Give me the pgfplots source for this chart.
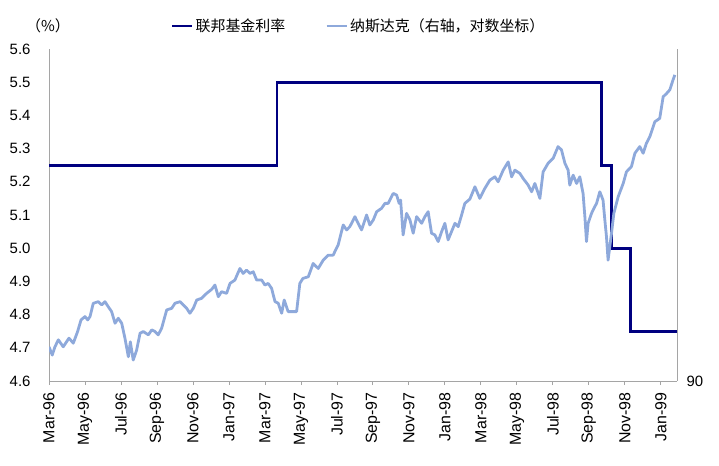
\documentclass[border=0pt]{standalone}
\usepackage{fontspec}
\setmainfont{Liberation Sans}
\newfontfamily\cjk{Noto Sans CJK SC}
\usepackage{pgfplots}
\pgfplotsset{compat=1.18}
\definecolor{fed}{RGB}{0,0,128}
\definecolor{nas}{RGB}{142,169,219}
\definecolor{axgray}{RGB}{165,165,165}

\begin{document}
\begin{tikzpicture}
\begin{axis}[
  at={(0,0)}, anchor=south west,
  scale only axis, width=628bp, height=332bp,
  xmin=0, xmax=34.9, ymin=4.6, ymax=5.6,
  axis x line*=bottom, axis y line*=left,
  axis line style={axgray, line width=0.8bp, -},
  xtick={0,2,4,6,8,10,12,14,16,18,20,22,24,26,28,30,32,34},
  xticklabels={Mar-96,May-96,Jul-96,Sep-96,Nov-96,Jan-97,Mar-97,May-97,Jul-97,Sep-97,Nov-97,Jan-98,Mar-98,May-98,Jul-98,Sep-98,Nov-98,Jan-99},
  xticklabel style={rotate=90, anchor=east, font=\fontsize{16}{16}\selectfont},
  xticklabel shift=4bp,
  x tick style={axgray, line width=0.8bp},
  tick align=outside, major tick length=4bp,
  ytick={4.6,4.7,4.8,4.9,5.0,5.1,5.2,5.3,5.4,5.5,5.6},
  y tick style={draw=none},
  yticklabel style={font=\fontsize{15}{15}\selectfont, xshift=-11bp},
  /pgf/number format/.cd, fixed, fixed zerofill, precision=1, assume math mode=true,
  /pgfplots/.cd,
  clip=false,
  legend style={at={(0.493,1.069)}, anchor=center, draw=none, fill=none,
    font=\cjk\fontsize{15}{15}\selectfont, legend columns=2,
    /tikz/every even column/.append style={column sep=38bp}},
  legend image code/.code={\draw[#1] (0bp,0bp) -- (20bp,0bp);},
]
\addplot[fed, line width=2.8bp] coordinates {
(0,5.25) (12.67,5.25) (12.67,5.5) (30.72,5.5) (30.72,5.25) (31.28,5.25)
(31.28,5.0) (32.33,5.0) (32.33,4.75) (34.9,4.75)};
\addlegendentry{联邦基金利率}
\addlegendimage{nas, line width=2.8bp}
\addlegendentry{纳斯达克（右轴，对数坐标）}
\end{axis}
\begin{axis}[
  at={(0,0)}, anchor=south west,
  scale only axis, width=628bp, height=332bp,
  xmin=0, xmax=34.9, ymin=4.6, ymax=5.6,
  axis x line=none, axis y line*=right,
  axis line style={axgray, line width=0.8bp, -},
  ytick={4.6}, yticklabels={90},
  y tick style={draw=none},
  yticklabel style={font=\fontsize{15}{15}\selectfont, xshift=6bp},
]
\addplot[nas, line width=2.8bp, line join=round] coordinates {
(0,4.703) (0.18,4.678) (0.33,4.703) (0.52,4.724) (0.79,4.703) (1.11,4.729)
(1.35,4.714) (1.59,4.749) (1.78,4.784) (2.00,4.794) (2.15,4.784) (2.28,4.794)
(2.46,4.834) (2.74,4.839) (2.93,4.829) (3.11,4.839) (3.29,4.824) (3.48,4.809)
(3.67,4.774) (3.85,4.789) (4.04,4.774) (4.22,4.729) (4.41,4.673) (4.52,4.718)
(4.68,4.663) (4.87,4.693) (5.06,4.744) (5.24,4.749) (5.52,4.739) (5.71,4.754)
(5.89,4.749) (6.07,4.739) (6.26,4.759) (6.54,4.814) (6.82,4.819) (7.00,4.834)
(7.28,4.839) (7.46,4.829) (7.65,4.819) (7.83,4.804) (8.02,4.819) (8.21,4.844)
(8.48,4.849) (8.76,4.864) (9.04,4.876) (9.22,4.889) (9.41,4.854) (9.59,4.869)
(9.87,4.864) (10.06,4.894) (10.33,4.904) (10.61,4.939) (10.79,4.924) (10.98,4.934)
(11.17,4.924) (11.35,4.929) (11.54,4.904) (11.82,4.904) (12.00,4.889) (12.18,4.894)
(12.37,4.879) (12.56,4.839) (12.74,4.834) (12.93,4.804) (13.07,4.844) (13.29,4.809)
(13.56,4.809) (13.76,4.809) (13.94,4.894) (14.11,4.909) (14.41,4.914) (14.68,4.954)
(14.96,4.939) (15.24,4.964) (15.52,4.979) (15.79,4.979) (16.07,5.010) (16.35,5.070)
(16.54,5.055) (16.72,5.065) (17.00,5.095) (17.18,5.075) (17.37,5.055) (17.65,5.100)
(17.83,5.070) (18.02,5.085) (18.21,5.110) (18.48,5.120) (18.67,5.135) (18.85,5.135)
(19.13,5.165) (19.32,5.160) (19.46,5.135) (19.54,5.145) (19.68,5.040) (19.87,5.105)
(20.06,5.085) (20.24,5.045) (20.43,5.095) (20.71,5.075) (20.89,5.095) (21.07,5.110)
(21.26,5.045) (21.44,5.040) (21.63,5.020) (21.82,5.050) (22.00,5.075) (22.18,5.025)
(22.37,5.050) (22.56,5.075) (22.74,5.065) (22.93,5.100) (23.11,5.135) (23.39,5.148)
(23.67,5.185) (23.94,5.150) (24.22,5.180) (24.50,5.205) (24.78,5.215) (24.96,5.200)
(25.24,5.235) (25.52,5.260) (25.71,5.215) (25.89,5.235) (26.17,5.225) (26.35,5.210)
(26.63,5.190) (26.82,5.170) (27.00,5.195) (27.28,5.150) (27.46,5.230) (27.74,5.256)
(28.02,5.271) (28.29,5.306) (28.48,5.296) (28.67,5.256) (28.85,5.235) (28.94,5.190)
(29.13,5.220) (29.32,5.195) (29.50,5.215) (29.68,5.165) (29.78,5.095) (29.87,5.020)
(29.96,5.075) (30.15,5.105) (30.33,5.125) (30.43,5.135) (30.61,5.170) (30.79,5.145)
(30.89,5.085) (30.98,5.035) (31.07,4.964) (31.26,5.045) (31.39,5.105) (31.63,5.155)
(31.91,5.195) (32.09,5.230) (32.37,5.246) (32.56,5.286) (32.83,5.306) (33.02,5.286)
(33.20,5.316) (33.39,5.336) (33.67,5.381) (33.94,5.391) (34.13,5.456) (34.32,5.466)
(34.50,5.477) (34.68,5.507) (34.78,5.522)};
\end{axis}
\node[font=\cjk\fontsize{15}{15}\selectfont] at (-1bp,355bp) {（\%）};
\pgfresetboundingbox
\path[use as bounding box] (-49bp,-85bp) rectangle (670bp,381bp);
\end{tikzpicture}
\end{document}
